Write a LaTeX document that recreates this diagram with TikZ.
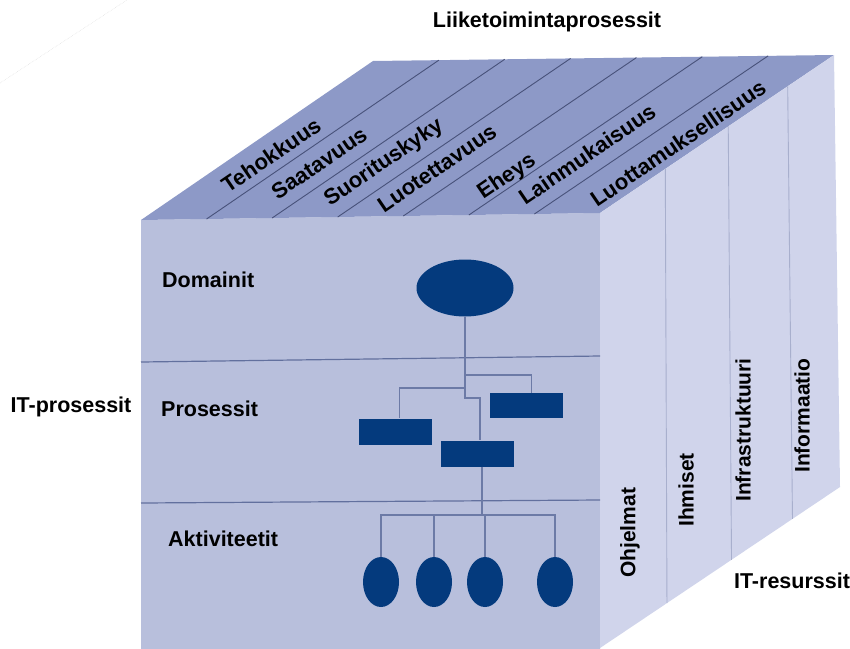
\documentclass[tikz,border=0pt]{standalone}
\usepackage{fontspec}
\setmainfont{Liberation Sans}
\usetikzlibrary{shapes.geometric,calc}

\definecolor{topface}{RGB}{141,153,199}
\definecolor{frontface}{RGB}{184,191,220}
\definecolor{sideface}{RGB}{208,212,235}
\definecolor{navy}{RGB}{4,58,125}
\definecolor{toprule}{RGB}{72,82,122}
\definecolor{siderule}{RGB}{168,175,205}
\definecolor{layerrule}{RGB}{98,112,158}
\definecolor{wirecol}{RGB}{108,122,166}

\begin{document}
\begin{tikzpicture}[x=1pt,y=-1pt,
  lbl/.style={font=\bfseries\fontsize{21.5}{25}\selectfont, text=black, inner sep=0pt},
  toplbl/.style={lbl, rotate=34.3, font=\bfseries\fontsize{22}{25}\selectfont},
  sidelbl/.style={lbl, rotate=90, anchor=west, font=\bfseries\fontsize{21}{25}\selectfont},
  domnode/.style={ellipse, fill=navy, minimum width=97pt, minimum height=57pt, inner sep=0pt},
  procbox/.style={rectangle, fill=navy, minimum width=73pt, minimum height=26pt, inner sep=0pt},
  actnode/.style={ellipse, fill=navy, minimum width=36pt, minimum height=50pt, inner sep=0pt},
  wire/.style={draw=wirecol, line width=1.3pt},
  topline/.style={draw=toprule, line width=0.9pt},
  sideline/.style={draw=siderule, line width=0.9pt},
  layerline/.style={draw=layerrule, line width=1.2pt}]

\useasboundingbox (0,0) rectangle (850,648);
\clip (0,0) rectangle (850,648);

% faint guide line in the corner
\draw[gray!22, densely dotted, line width=0.6pt] (0,83) -- (127,0);

% cube corners
\coordinate (FTL) at (141,220);
\coordinate (FTR) at (600,213);
\coordinate (BTR) at (834,55);
\coordinate (BTL) at (373,61);
\coordinate (BBR) at (840,487);
\coordinate (FBR) at (600,648);
\coordinate (FBL) at (141,660);

% faces
\fill[frontface] (FTL) -- (FTR) -- ([yshift=-12pt]FBR) -- (FBL) -- cycle;
\fill[topface] (FTL) -- (BTL) -- (BTR) -- (FTR) -- cycle;
\fill[sideface] (FTR) -- (BTR) -- (BBR) -- (FBR) -- cycle;

% strips on the top face
\foreach \i in {1,...,6}
  \draw[topline] ($(FTL)!\i/7!(FTR)$) -- ($(BTL)!\i/7!(BTR)$);

% strips on the side face
\foreach \f in {0.279,0.548,0.802}
  \draw[sideline] ($(FTR)!\f!(BTR)$) -- ($(FBR)!\f!(BBR)$);

% layer separators on the front face
\coordinate (L1a) at (141,362); \coordinate (L1b) at (600,356);
\coordinate (L2a) at (141,503); \coordinate (L2b) at (600,500);
\draw[layerline] (L1a) -- (L1b);
\draw[layerline] (L2a) -- (L2b);

% hierarchy
\node[domnode] (dom) at (465,288) {};
\node[procbox] (p1) at (395.5,431.5) {};
\node[procbox] (p2) at (477,453.5) {};
\node[procbox, minimum height=25pt] (p3) at (526.5,405.5) {};
\node[actnode] (a1) at (381,582) {};
\node[actnode] (a2) at (434,582) {};
\node[actnode] (a3) at (485,582) {};
\node[actnode] (a4) at (555,582) {};

\coordinate (j1) at (465,375);
\coordinate (j2) at (465,388);
\coordinate (j3) at (465,398);
\coordinate (bus) at (482,515);

\draw[wire] (dom.south) -- (j3) -| ([xshift=3pt]p2.north);
\draw[wire] (j1) -| ([xshift=5pt]p3.north);
\draw[wire] (j2) -| ([xshift=4pt]p1.north);
\draw[wire] ([xshift=5pt]p2.south) -- (bus);
\draw[wire] (a1.north) |- (bus) -| (a4.north);
\draw[wire] (a2.north) -- (a2.north |- bus);
\draw[wire] (a3.north) -- (a3.north |- bus);

% front labels
\node[lbl, anchor=west] (dm) at (162,280) {Domainit};
\node[lbl, anchor=west] (pr) at (161,409) {Prosessit};
\node[lbl, anchor=west] (ak) at (168,539) {Aktiviteetit};

% axis labels
\node[lbl] (itp) at (71,407) {IT-prosessit};
\node[lbl] (lp) at (547,22) {Liiketoimintaprosessit};
\node[lbl] (itr) at (792,581) {IT-resurssit};

% top face labels
\node[toplbl] (t1) at (271,155) {Tehokkuus};
\node[toplbl] (t2) at (319,163) {Saatavuus};
\node[toplbl] (t3) at (384,163) {Suorituskyky};
\node[toplbl] (t4) at (437,168) {Luotettavuus};
\node[toplbl] (t5) at (507,177) {Eheys};
\node[toplbl] (t6) at (587,154) {Lainmukaisuus};
\node[toplbl] (t7) at (678,143) {Luottamuksellisuus};

% side face labels
\node[sidelbl] (s1) at (630,578) {Ohjelmat};
\node[sidelbl] (s2) at (686,527) {Ihmiset};
\node[sidelbl] (s3) at (743,502) {Infrastruktuuri};
\node[sidelbl] (s4) at (802,473) {Informaatio};

\end{tikzpicture}
\end{document}
